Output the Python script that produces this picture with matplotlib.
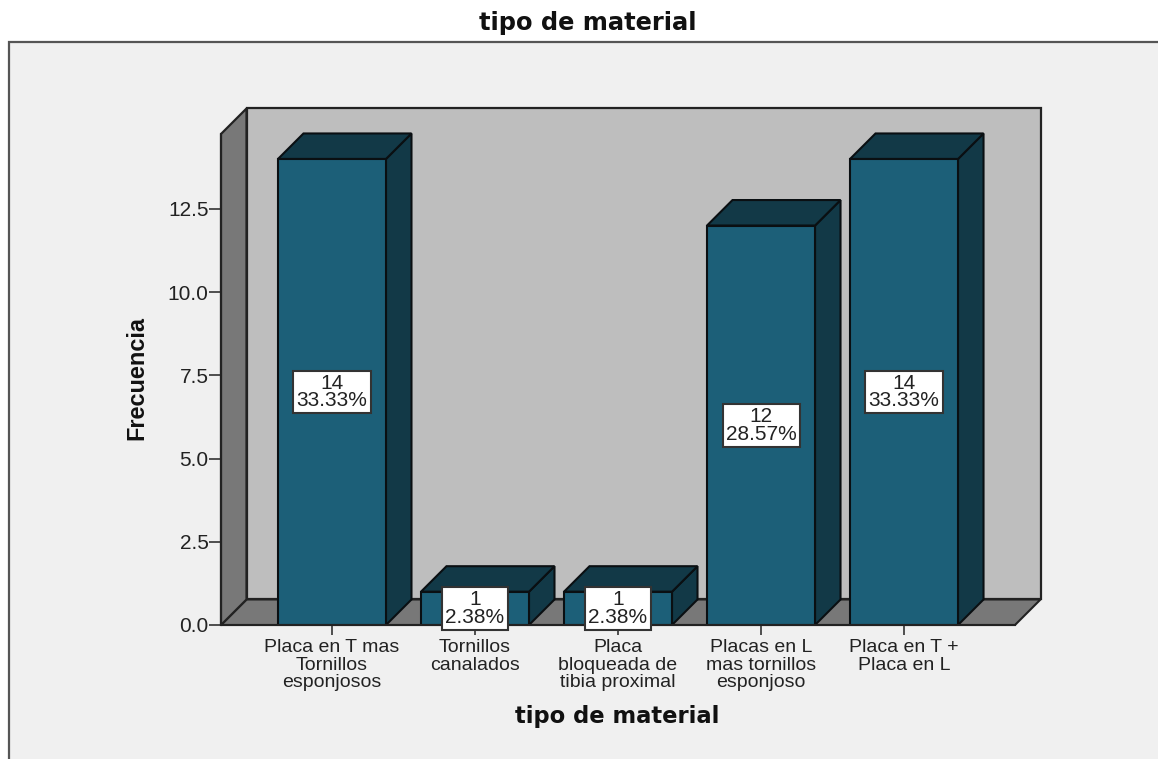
import matplotlib
matplotlib.use('Agg')
import matplotlib.pyplot as plt
from matplotlib.patches import Polygon, Rectangle

categorias = ['Placa en T mas\nTornillos\nesponjosos', 'Tornillos\ncanalados',
              'Placa\nbloqueada de\ntibia proximal', 'Placas en L\nmas tornillos\nesponjoso',
              'Placa en T +\nPlaca en L']
frecuencia = [14, 1, 1, 12, 14]
porcentaje = ['33.33%', '2.38%', '2.38%', '28.57%', '33.33%']
y_ticks = [0.0, 2.5, 5.0, 7.5, 10.0, 12.5]

W, H = 1158, 759
plt.rcParams['font.family'] = ['Liberation Sans', 'DejaVu Sans']

FRONT = '#1c5f78'
DARK = '#123947'
WALL = '#bebebe'
SIDE = '#787878'
PANEL = '#f0f0f0'
EDGE = '#0a0f12'

fig = plt.figure(figsize=(W / 100, H / 100), dpi=100, facecolor='white')

# grey panel with its frame, runs off the right and bottom of the image
fig.add_artist(Rectangle((9 / W, 0 - 0.01), 1.1, (H - 42) / H + 0.01, transform=fig.transFigure,
                         facecolor=PANEL, edgecolor='#555555', linewidth=1.6, zorder=-1))

# axes box is the front of the 3D floor, pixels 221-1015 / 134-625
ax = fig.add_axes([221 / W, (H - 625) / H, (1015 - 221) / W, (625 - 134) / H])
ax.set_xlim(-0.776, 4.776)
ax.set_ylim(0, 14.75)
ax.patch.set_alpha(0)
for s in ['top', 'right']:
    ax.spines[s].set_visible(False)
for s in ['left', 'bottom']:
    ax.spines[s].set_linewidth(1.5)
    ax.spines[s].set_color('#222222')
    ax.spines[s].set_zorder(6)

dx = 25.5 / 143
dy = 25.5 / 33.28
x0, x1 = ax.get_xlim()
ytop = ax.get_ylim()[1]

ax.add_patch(Polygon([(x0 + dx, dy), (x1 + dx, dy), (x1 + dx, ytop + dy), (x0 + dx, ytop + dy)],
                     facecolor=WALL, edgecolor='#222222', linewidth=1.6, clip_on=False, zorder=1))
ax.add_patch(Polygon([(x0, 0), (x1, 0), (x1 + dx, dy), (x0 + dx, dy)],
                     facecolor=SIDE, edgecolor='#222222', linewidth=1.5, clip_on=False, zorder=1.5))
ax.add_patch(Polygon([(x0, 0), (x0 + dx, dy), (x0 + dx, ytop + dy), (x0, ytop)],
                     facecolor=SIDE, edgecolor='#222222', linewidth=1.6, clip_on=False, zorder=1.5))

bw = 108 / 143
for i, v in enumerate(frecuencia):
    l, r = i - bw / 2, i + bw / 2
    ax.add_patch(Polygon([(r, 0), (r + dx, dy), (r + dx, v + dy), (r, v)], facecolor=DARK,
                         edgecolor=EDGE, linewidth=1.5, clip_on=False, zorder=3))
    ax.add_patch(Polygon([(l, v), (r, v), (r + dx, v + dy), (l + dx, v + dy)], facecolor=DARK,
                         edgecolor=EDGE, linewidth=1.5, clip_on=False, zorder=3))
ax.bar(range(len(frecuencia)), frecuencia, width=bw, color=FRONT, edgecolor=EDGE, linewidth=1.5, zorder=4)

for i, v in enumerate(frecuencia):
    ax.text(i, v / 2, '%d\n%s' % (v, porcentaje[i]), ha='center', va='center', fontsize=15,
            linespacing=0.9, color='#222222', zorder=7,
            bbox=dict(boxstyle='square,pad=0.15', facecolor='white', edgecolor='#333333', linewidth=1.5))

ax.set_xticks(range(len(categorias)))
ax.set_xticklabels(categorias, fontsize=14, linespacing=1.03, color='#222222')
ax.set_yticks(y_ticks)
ax.set_yticklabels(['%.1f' % t for t in y_ticks], fontsize=15, color='#222222')
ax.tick_params(axis='x', length=7.2, width=1.2, pad=3, color='#333333')
ax.tick_params(axis='y', length=9, width=1.2, pad=0, color='#333333')

fig.text(588 / W, 1 - 23 / H, 'tipo de material', ha='center', va='center', fontsize=17.4,
         fontweight='bold', family='DejaVu Sans', color='#111111')
fig.text(617 / W, 1 - 717 / H, 'tipo de material', ha='center', va='center', fontsize=16.3,
         fontweight='bold', family='DejaVu Sans', color='#111111')
fig.text(137 / W, 1 - 377.5 / H, 'Frecuencia', ha='center', va='center', rotation=90, fontsize=16.9,
         fontweight='bold', color='#111111')

fig.savefig('out.png', dpi=100)
